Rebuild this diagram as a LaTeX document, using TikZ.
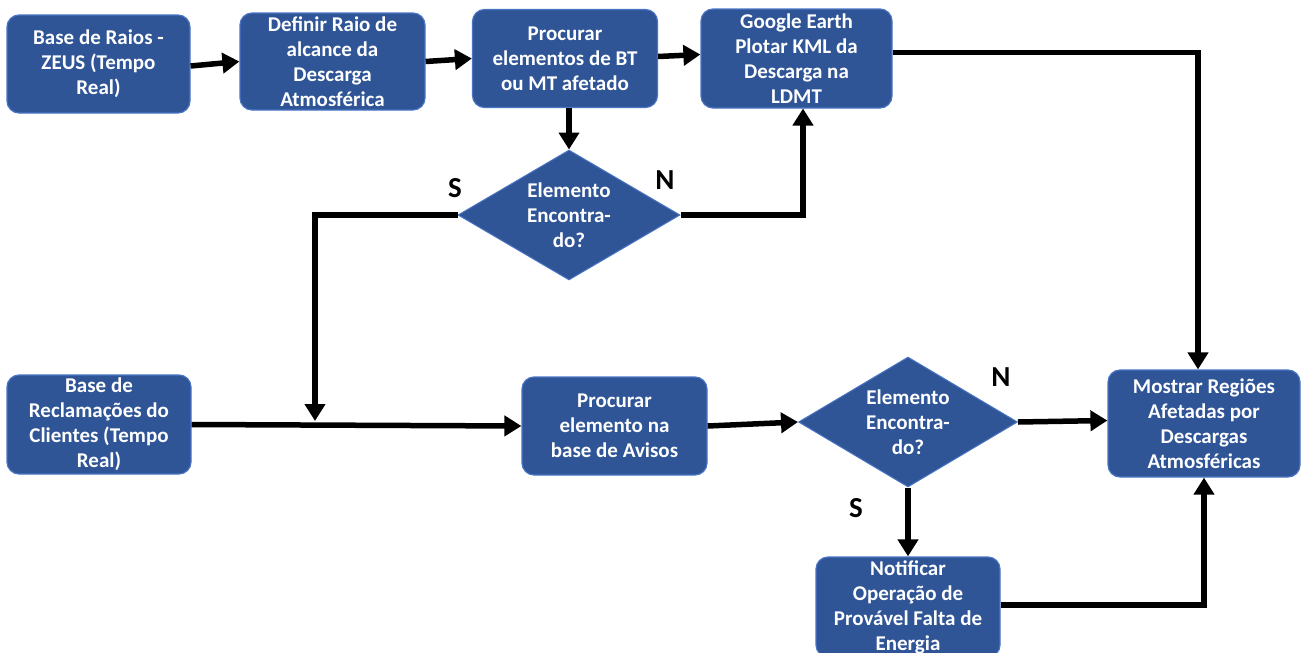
\documentclass[tikz,border=0pt]{standalone}
\usepackage{fontspec}
\setmainfont{Carlito}
\usetikzlibrary{arrows.meta,shapes.geometric,calc}
\definecolor{boxfill}{HTML}{2F5597}
\definecolor{boxline}{HTML}{4A74C4}
\tikzset{
  txt/.style={text=white,font=\fontsize{21}{25}\selectfont\bfseries,align=center},
  procbox/.style={txt,draw=boxline,line width=1.2pt,fill=boxfill,rounded corners=12pt,inner sep=0pt},
  dec/.style={diamond,draw=boxline,line width=1pt,fill=boxfill,inner sep=0pt},
  flow/.style={line width=5.5pt,-{Triangle[length=17pt,width=20pt]}},
  yn/.style={font=\fontsize{29}{33}\selectfont\bfseries,text=black}
}
\begin{document}
\begin{tikzpicture}[x=1pt,y=-1pt]
\useasboundingbox (0,0) rectangle (1304,653);
\node[procbox,minimum width=183pt,minimum height=98pt] (b1) at (98.5,64) {Base de Raios -\\ZEUS (Tempo\\Real)};
\node[procbox,minimum width=185pt,minimum height=97pt] (b2) at (332.5,61.5) {Definir Raio de\\alcance da\\Descarga\\Atmosférica};
\node[procbox,minimum width=185pt,minimum height=98pt] (b3) at (565,58.5) {Procurar\\elementos de BT\\ou MT afetado};
\node[procbox,minimum width=191pt,minimum height=99pt] (b4) at (796.5,58.5) {Google Earth\\Plotar KML da\\Descarga na\\LDMT};
\node[procbox,minimum width=184pt,minimum height=99pt] (b5) at (99,424.5) {Base de\\Reclamações do\\Clientes (Tempo\\Real)};
\node[procbox,minimum width=185pt,minimum height=98pt] (b6) at (614.5,426) {Procurar\\elemento na\\base de Avisos};
\node[procbox,minimum width=192pt,minimum height=107pt] (b7) at (1204,423.5) {Mostrar Regiões\\Afetadas por\\Descargas\\Atmosféricas};
\node[procbox,minimum width=184pt,minimum height=100pt] (b8) at (908,607) {Notificar\\Operação de\\Provável Falta de\\Energia};
\node[dec,minimum width=222pt,minimum height=130pt,label={[txt]center:Elemento\\Encontra-\\do?}] (d1) at (569,215) {};
\node[dec,minimum width=219pt,minimum height=130pt,label={[txt]center:Elemento\\Encontra-\\do?}] (d2) at (908,422) {};

\node[yn] (s1) at (455,188) {S};
\node[yn] (n1) at (665,180) {N};
\node[yn] (n2) at (1001,377) {N};
\node[yn] (s2) at (856,508) {S};

\coordinate (j) at (315,421);
\coordinate (u) at (803,108.5);

\draw[flow] ($(b1.east)+(0,2)$) -- (b2.west);
\draw[flow] (b2.east) -- (b3.west);
\draw[flow] ($(b3.east)+(0,-2)$) -- ($(b4.west)+(0,-4)$);
\draw[flow] (b3.south -| d1.north) -- (d1.north);
\draw[flow] (d1.east) -| (u);
\draw[flow] (d1.west) -| (j);
\draw[flow] (b5.east) -- (b6.west);
\draw[flow] (b6.east) -- (d2.west);
\draw[flow] (d2.east) -- ($(b7.west)+(0,-3)$);
\draw[flow] ($(b4.east)+(0,-6)$) -| ($(b7.north)+(-6,0)$);
\draw[flow] (d2.south) -- (b8.north);
\draw[flow] ($(b8.east)+(0,-2)$) -| (b7.south);
\end{tikzpicture}
\end{document}
